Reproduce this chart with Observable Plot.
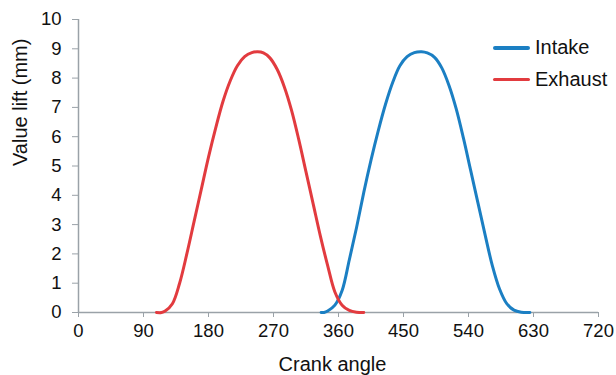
<!DOCTYPE html>
<html>
<head>
<meta charset="utf-8">
<script src="https://cdn.jsdelivr.net/npm/d3@7"></script>
<script src="https://cdn.jsdelivr.net/npm/@observablehq/plot@0.6"></script>
<style>
  html, body { margin: 0; padding: 0; background: #fff; }
  #wrap { position: relative; width: 616px; height: 375px; font-family: "Liberation Sans", Arial, Helvetica, sans-serif; }
  #legend { position: absolute; left: 493px; top: 32px; font-size: 20px; color: #111; }
  .item { display: flex; align-items: center; height: 31.5px; }
  .swatch { width: 37px; height: 3.5px; border-radius: 2px; margin-right: 5px; }
</style>
</head>
<body>
<div id="wrap"></div>
<script>
// Exhaust valve lift (mm) vs crank angle (deg)
const exhaustAngle = [108, 115, 120, 130, 140, 150, 160, 170, 180, 190, 200, 210, 220, 230, 240, 248, 256, 265, 275, 285, 295, 305, 315, 325, 335, 345, 355, 365, 375, 385, 395];
const exhaustLift  = [0, 0, 0.05, 0.3, 1.0, 2.0, 3.1, 4.2, 5.3, 6.3, 7.2, 7.9, 8.42, 8.73, 8.87, 8.9, 8.86, 8.69, 8.3, 7.7, 6.9, 5.9, 4.8, 3.7, 2.6, 1.6, 0.7, 0.25, 0.07, 0.01, 0];
// Intake valve lift (mm) vs crank angle (deg)
const intakeAngle = [336, 340, 345, 355, 365, 375, 385, 395, 405, 415, 425, 435, 445, 455, 465, 475, 483, 493, 503, 513, 523, 533, 543, 553, 563, 573, 583, 593, 603, 613, 625];
const intakeLift  = [0, 0, 0.05, 0.25, 0.75, 1.8, 2.9, 4.1, 5.2, 6.2, 7.1, 7.85, 8.42, 8.73, 8.87, 8.9, 8.86, 8.71, 8.35, 7.75, 6.95, 5.95, 4.85, 3.75, 2.65, 1.6, 0.8, 0.3, 0.08, 0.01, 0];

const xTicks = [0, 90, 180, 270, 360, 450, 540, 630, 720];
const yTicks = [0, 1, 2, 3, 4, 5, 6, 7, 8, 9, 10];
const seriesNames = ["Intake", "Exhaust"];
const seriesColors = ["#1b7fc3", "#e23b3f"];

const rows = [
  ...intakeAngle.map((a, i) => ({series: "Intake", angle: a, lift: intakeLift[i]})),
  ...exhaustAngle.map((a, i) => ({series: "Exhaust", angle: a, lift: exhaustLift[i]}))
];

const axisColor = "#9aa2a8";

const chart = Plot.plot({
  width: 616,
  height: 375,
  marginLeft: 78,
  marginRight: 18,
  marginTop: 19,
  marginBottom: 63,
  style: {fontFamily: "'Liberation Sans', Arial, Helvetica, sans-serif", fontSize: "18.5px", color: "#111", background: "#fff"},
  x: {domain: [0, 720]},
  y: {domain: [0, 10]},
  color: {domain: seriesNames, range: seriesColors},
  marks: [
    Plot.axisY({ticks: yTicks, tickSize: 6, tickPadding: 11, stroke: axisColor, fill: "#111", label: null, fontSize: 18.5}),
    Plot.axisX({ticks: xTicks, tickSize: 5, tickPadding: 6, stroke: axisColor, fill: "#111", label: null, fontSize: 18.5}),
    Plot.ruleX([0], {stroke: axisColor, strokeWidth: 1.5}),
    Plot.ruleY([0], {stroke: axisColor, strokeWidth: 1.5}),
    Plot.line(rows, {x: "angle", y: "lift", z: "series", stroke: "series", strokeWidth: 3, curve: "catmull-rom"}),
    Plot.text(["Crank angle"], {frameAnchor: "bottom", dx: -6, dy: 58, fontSize: 20, fill: "#111"}),
    Plot.text(["Value lift (mm)"], {frameAnchor: "left", dx: -58, rotate: -90, fontSize: 20, fill: "#111"})
  ]
});

const wrap = document.getElementById("wrap");
wrap.appendChild(chart);

const legend = document.createElement("div");
legend.id = "legend";
seriesNames.forEach((name, i) => {
  const item = document.createElement("div");
  item.className = "item";
  const sw = document.createElement("div");
  sw.className = "swatch";
  sw.style.background = seriesColors[i];
  const label = document.createElement("span");
  label.textContent = name;
  item.appendChild(sw);
  item.appendChild(label);
  legend.appendChild(item);
});
wrap.appendChild(legend);
</script>
</body>
</html>
